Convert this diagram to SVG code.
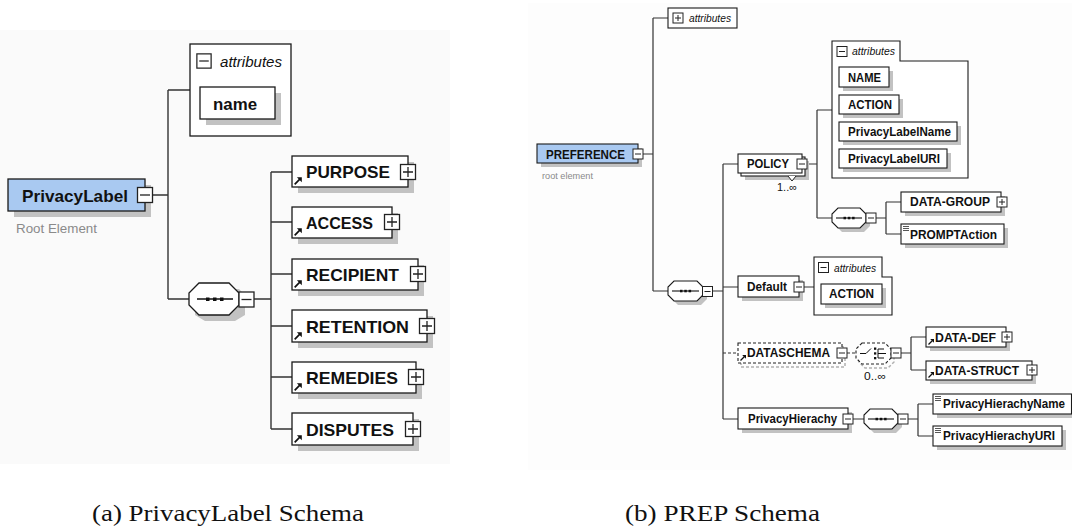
<svg xmlns="http://www.w3.org/2000/svg" xmlns:xlink="http://www.w3.org/1999/xlink" width="1072" height="532" viewBox="0 0 1072 532">
<style>
.bx{fill:#fff;stroke:#1a1a1a;stroke-width:1.3}
.root{fill:#a9c9f1;stroke:#1a1a1a;stroke-width:1.3}
.sh{fill:#c2c2c2}
.ln{fill:none;stroke:#333;stroke-width:1.4}
.dl{fill:none;stroke:#333;stroke-width:1.2;stroke-dasharray:3 2}
.tb{font-family:"Liberation Sans",Arial,sans-serif;font-weight:bold;fill:#111}
.ti{font-family:"Liberation Sans",Arial,sans-serif;font-style:italic;fill:#111}
.tg{font-family:"Liberation Sans",Arial,sans-serif;fill:#8a8a8a}
.tn{font-family:"Liberation Sans",Arial,sans-serif;fill:#111}
.cap{font-family:"Liberation Serif","Times New Roman",serif;font-size:23px;fill:#111}
</style>
<defs>
<g id="m10"><rect x="-5" y="-5" width="10" height="10" fill="#fff" stroke="#222" stroke-width="1"/><path d="M-3 0H3" stroke="#222" stroke-width="1"/></g>
<g id="p10"><rect x="-5" y="-5" width="10" height="10" fill="#fff" stroke="#222" stroke-width="1"/><path d="M-3 0H3M0 -3V3" stroke="#222" stroke-width="1"/></g>
<g id="m15"><rect x="-7.5" y="-7.5" width="15" height="15" fill="#fff" stroke="#222" stroke-width="1.3"/><path d="M-5 0H5" stroke="#222" stroke-width="1.3"/></g>
<g id="p15"><rect x="-7.5" y="-7.5" width="15" height="15" fill="#fff" stroke="#222" stroke-width="1.3"/><path d="M-5 0H5M0 -5V5" stroke="#222" stroke-width="1.3"/></g>
<g id="arr"><path d="M0.5 -0.5L4.5 -4.5" stroke="#111" stroke-width="1.3"/><path d="M2.2 -6H6V-2.2Z" fill="#111"/></g>
<g id="doc"><path d="M0 0.5H6M0 2.5H6M0 4.5H6" stroke="#444" stroke-width="0.9"/></g>
</defs>

<rect x="0" y="30" width="450" height="434" fill="#fafafa"/>
<rect x="528" y="3" width="544" height="467" fill="#fdfdfd"/>

<g id="connectors">
<path class="ln" d="M152 195H168M168 90V299M168 90H190M168 299H189M254 299H271M271 172V429M271 172H292M271 222H292M271 274H292M271 326H292M271 377H292M271 429H292"/>
<path class="ln" style="stroke-width:1.2" d="M643 154H653M653 18V291M653 18H668M653 291H668M712 291H723M723 164V419M723 164H738M723 287H738M723 419H738M807 164H817M817 110V218M817 110H832M817 218H832M876 218H886M886 202V234M886 202H901M886 234H901M804 287H814M901 353H911M911 337V370M911 337H926M911 370H926M853 419H864M908 419H918M918 404V436M918 404H933M918 436H933"/>
<path class="dl" d="M723 353H738M847 353H856"/>
</g>

<!-- Left diagram -->
<g id="privacylabel">
<rect class="sh" x="14" y="185" width="137" height="32"/>
<rect class="root" x="8" y="179" width="137" height="32"/>
<text class="tb" x="22" y="202" font-size="17" textLength="106" lengthAdjust="spacingAndGlyphs">PrivacyLabel</text>
<use xlink:href="#m15" href="#m15" transform="translate(145 195)"/>
<text class="tg" x="16" y="233" font-size="13" textLength="81" lengthAdjust="spacingAndGlyphs">Root Element</text>
</g>
<g id="pl-attributes">
<rect class="bx" x="190" y="44" width="101" height="92"/>
<use href="#m15" transform="translate(204 61) scale(0.95)"/>
<text class="ti" x="220" y="67" font-size="15" textLength="62" lengthAdjust="spacingAndGlyphs">attributes</text>
<rect class="sh" x="206" y="93" width="75" height="32"/>
<rect class="bx" x="200" y="87" width="75" height="32"/>
<text class="tb" x="213" y="110" font-size="16" textLength="44" lengthAdjust="spacingAndGlyphs">name</text>
</g>
<g id="pl-sequence">
<polygon class="sh" points="205,289 239,289 245,295 245,315 235,321 205,321 195,315 195,299"/>
<polygon class="bx" points="199,283 229,283 239,293 239,305 229,315 199,315 189,305 189,293"/>
<path d="M197 299H233" stroke="#111" stroke-width="1.4"/>
<rect x="206" y="297.5" width="3.5" height="3.5" fill="#111"/><rect x="213" y="297.5" width="3.5" height="3.5" fill="#111"/><rect x="220" y="297.5" width="3.5" height="3.5" fill="#111"/>
<use href="#m15" transform="translate(246.5 299.5)"/>
</g>
<g id="purpose">
<rect class="sh" x="298" y="162" width="116" height="31"/>
<rect class="bx" x="292" y="156" width="116" height="31"/>
<use href="#arr" transform="translate(294 185) scale(1.3)"/>
<text class="tb" x="306" y="178" font-size="17" textLength="84" lengthAdjust="spacingAndGlyphs">PURPOSE</text>
<use href="#p15" transform="translate(408 172)"/>
</g>
<g id="access">
<rect class="sh" x="298" y="213" width="100" height="31"/>
<rect class="bx" x="292" y="207" width="100" height="31"/>
<use href="#arr" transform="translate(294 236) scale(1.3)"/>
<text class="tb" x="306" y="229" font-size="17" textLength="67" lengthAdjust="spacingAndGlyphs">ACCESS</text>
<use href="#p15" transform="translate(392 222)"/>
</g>
<g id="recipient">
<rect class="sh" x="298" y="265" width="126" height="31"/>
<rect class="bx" x="292" y="259" width="126" height="31"/>
<use href="#arr" transform="translate(294 288) scale(1.3)"/>
<text class="tb" x="306" y="281" font-size="17" textLength="93" lengthAdjust="spacingAndGlyphs">RECIPIENT</text>
<use href="#p15" transform="translate(418 274)"/>
</g>
<g id="retention">
<rect class="sh" x="298" y="316" width="135" height="32"/>
<rect class="bx" x="292" y="310" width="135" height="32"/>
<use href="#arr" transform="translate(294 340) scale(1.3)"/>
<text class="tb" x="306" y="333" font-size="17" textLength="103" lengthAdjust="spacingAndGlyphs">RETENTION</text>
<use href="#p15" transform="translate(427 326)"/>
</g>
<g id="remedies">
<rect class="sh" x="298" y="368" width="124" height="31"/>
<rect class="bx" x="292" y="362" width="124" height="31"/>
<use href="#arr" transform="translate(294 391) scale(1.3)"/>
<text class="tb" x="306" y="384" font-size="17" textLength="92" lengthAdjust="spacingAndGlyphs">REMEDIES</text>
<use href="#p15" transform="translate(416 377)"/>
</g>
<g id="disputes">
<rect class="sh" x="298" y="419" width="121" height="32"/>
<rect class="bx" x="292" y="413" width="121" height="32"/>
<use href="#arr" transform="translate(294 443) scale(1.3)"/>
<text class="tb" x="306" y="436" font-size="17" textLength="88" lengthAdjust="spacingAndGlyphs">DISPUTES</text>
<use href="#p15" transform="translate(413 429)"/>
</g>

<!-- Right diagram -->
<g id="pref-attributes">
<rect class="bx" x="668" y="8" width="69" height="20" style="stroke-width:1.1"/>
<use href="#p10" transform="translate(678 18)"/>
<text class="ti" x="689" y="22" font-size="10.5" textLength="42" lengthAdjust="spacingAndGlyphs">attributes</text>
</g>
<g id="preference">
<rect class="sh" x="541" y="148" width="101" height="19"/>
<rect class="root" x="537" y="144" width="101" height="19" style="stroke-width:1.1"/>
<text class="tb" x="546" y="159" font-size="12.5" textLength="79" lengthAdjust="spacingAndGlyphs">PREFERENCE</text>
<use href="#m10" transform="translate(638 154)"/>
<text class="tg" x="542" y="179" font-size="9.5" textLength="51" lengthAdjust="spacingAndGlyphs">root element</text>
</g>
<g id="pref-sequence">
<polygon class="sh" points="678,285 701,285 707,291 707,299 701,305 678,305 672,299 672,291"/>
<polygon class="bx" points="674,281 697,281 703,287 703,295 697,301 674,301 668,295 668,287" style="stroke-width:1.1"/>
<path d="M672 291H699" stroke="#111" stroke-width="1.1"/>
<rect x="680" y="289.8" width="2.5" height="2.5" fill="#111"/><rect x="684.3" y="289.8" width="2.5" height="2.5" fill="#111"/><rect x="688.6" y="289.8" width="2.5" height="2.5" fill="#111"/>
<use href="#m10" transform="translate(707.5 291.5)"/>
</g>
<g id="policy">
<rect class="sh" x="745" y="161" width="64" height="19"/>
<rect class="bx" x="741" y="157" width="64" height="19" style="stroke-width:1.1"/>
<rect class="bx" x="738" y="154" width="64" height="19" style="stroke-width:1.1"/>
<path d="M788 176L792 181L796 176" fill="#fff" stroke="#222" stroke-width="1"/>
<text class="tb" x="747" y="168" font-size="12.5" textLength="42" lengthAdjust="spacingAndGlyphs">POLICY</text>
<use href="#m10" transform="translate(802 164)"/>
<text class="tn" x="777" y="191" font-size="11" textLength="20" lengthAdjust="spacingAndGlyphs">1..∞</text>
</g>
<g id="policy-attributes">
<path class="bx" d="M832 41H900V61H968V178H832Z" style="stroke-width:1.1"/>
<use href="#m10" transform="translate(842 51.5)"/>
<text class="ti" x="852" y="55" font-size="10.5" textLength="43" lengthAdjust="spacingAndGlyphs">attributes</text>
<rect class="sh" x="843" y="71" width="50" height="20"/>
<rect class="bx" x="839" y="67" width="50" height="20" style="stroke-width:1.1"/>
<text class="tb" x="848" y="82" font-size="12" textLength="33" lengthAdjust="spacingAndGlyphs">NAME</text>
<rect class="sh" x="843" y="99" width="60" height="19"/>
<rect class="bx" x="839" y="95" width="60" height="19" style="stroke-width:1.1"/>
<text class="tb" x="848" y="109" font-size="12" textLength="44" lengthAdjust="spacingAndGlyphs">ACTION</text>
<rect class="sh" x="843" y="126" width="118" height="19"/>
<rect class="bx" x="839" y="122" width="118" height="19" style="stroke-width:1.1"/>
<text class="tb" x="848" y="136" font-size="12" textLength="103" lengthAdjust="spacingAndGlyphs">PrivacyLabelName</text>
<rect class="sh" x="843" y="153" width="108" height="19"/>
<rect class="bx" x="839" y="149" width="108" height="19" style="stroke-width:1.1"/>
<text class="tb" x="848" y="163" font-size="12" textLength="92" lengthAdjust="spacingAndGlyphs">PrivacyLabelURI</text>
</g>
<g id="policy-sequence">
<polygon class="sh" points="842,212 864,212 870,218 870,226 864,232 842,232 836,226 836,218"/>
<polygon class="bx" points="838,208 860,208 866,214 866,222 860,228 838,228 832,222 832,214" style="stroke-width:1.1"/>
<path d="M836 218H862" stroke="#111" stroke-width="1.1"/>
<rect x="843.5" y="216.8" width="2.5" height="2.5" fill="#111"/><rect x="847.8" y="216.8" width="2.5" height="2.5" fill="#111"/><rect x="852.1" y="216.8" width="2.5" height="2.5" fill="#111"/>
<use href="#m10" transform="translate(871 218)"/>
</g>
<g id="data-group">
<rect class="sh" x="905" y="196" width="100" height="20"/>
<rect class="bx" x="901" y="192" width="100" height="20" style="stroke-width:1.1"/>
<text class="tb" x="910" y="206" font-size="12" textLength="80" lengthAdjust="spacingAndGlyphs">DATA-GROUP</text>
<use href="#p10" transform="translate(1002 202)"/>
</g>
<g id="promptaction">
<rect class="sh" x="905" y="228" width="103" height="20"/>
<rect class="bx" x="901" y="224" width="103" height="20" style="stroke-width:1.1"/>
<use href="#doc" transform="translate(903 226)"/>
<text class="tb" x="910" y="239" font-size="12" textLength="87" lengthAdjust="spacingAndGlyphs">PROMPTAction</text>
</g>
<g id="default">
<rect class="sh" x="742" y="280" width="61" height="21"/>
<rect class="bx" x="738" y="276" width="61" height="21" style="stroke-width:1.1"/>
<text class="tb" x="747" y="291" font-size="12" textLength="40" lengthAdjust="spacingAndGlyphs">Default</text>
<use href="#m10" transform="translate(799 287)"/>
</g>
<g id="default-attributes">
<path class="bx" d="M814 257H882V277H892V315H814Z" style="stroke-width:1.1"/>
<use href="#m10" transform="translate(823.5 267.5)"/>
<text class="ti" x="834" y="272" font-size="10.5" textLength="42" lengthAdjust="spacingAndGlyphs">attributes</text>
<rect class="sh" x="825" y="288" width="61" height="20"/>
<rect class="bx" x="821" y="284" width="61" height="20" style="stroke-width:1.1"/>
<text class="tb" x="829" y="298" font-size="12" textLength="45" lengthAdjust="spacingAndGlyphs">ACTION</text>
</g>
<g id="dataschema">
<rect x="741" y="347" width="104" height="20" fill="none" stroke="#b0b0b0" stroke-width="1.5" stroke-dasharray="3 2"/>
<rect x="738" y="343" width="104" height="20" fill="#fff" stroke="#222" stroke-width="1.1" stroke-dasharray="3 2"/>
<use href="#arr" transform="translate(740 361)"/>
<text class="tb" x="747" y="357" font-size="12" textLength="83" lengthAdjust="spacingAndGlyphs">DATASCHEMA</text>
<use href="#m10" transform="translate(842 353)"/>
</g>
<g id="dataschema-choice">
<polygon points="865,347 888,347 894,353 894,362 888,368 865,368 859,362 859,353" fill="none" stroke="#b0b0b0" stroke-width="1.5" stroke-dasharray="3 2"/>
<polygon points="862,343 885,343 891,349 891,358 885,364 862,364 856,358 856,349" fill="#fff" stroke="#222" stroke-width="1.1" stroke-dasharray="3 2"/>
<path d="M860 353.5H866L871 348.5M878 349H884M878 353.5H886M878 358H884M878 349V358" fill="none" stroke="#111" stroke-width="1"/>
<rect x="874" y="347.5" width="2.3" height="2.3" fill="#111"/><rect x="874" y="352.3" width="2.3" height="2.3" fill="#111"/><rect x="874" y="357" width="2.3" height="2.3" fill="#111"/>
<use href="#m10" transform="translate(896 353)"/>
<text class="tn" x="864" y="380" font-size="11" textLength="22" lengthAdjust="spacingAndGlyphs">0..∞</text>
</g>
<g id="data-def">
<rect class="sh" x="930" y="331" width="80" height="20"/>
<rect class="bx" x="926" y="327" width="80" height="20" style="stroke-width:1.1"/>
<use href="#arr" transform="translate(928 345)"/>
<text class="tb" x="935" y="342" font-size="12" textLength="61" lengthAdjust="spacingAndGlyphs">DATA-DEF</text>
<use href="#p10" transform="translate(1007 337)"/>
</g>
<g id="data-struct">
<rect class="sh" x="930" y="365" width="106" height="19"/>
<rect class="bx" x="926" y="361" width="106" height="19" style="stroke-width:1.1"/>
<use href="#arr" transform="translate(928 378)"/>
<text class="tb" x="935" y="375" font-size="12" textLength="84" lengthAdjust="spacingAndGlyphs">DATA-STRUCT</text>
<use href="#p10" transform="translate(1032 370)"/>
</g>
<g id="privacyhierachy">
<rect class="sh" x="742" y="412" width="110" height="21"/>
<rect class="bx" x="738" y="408" width="110" height="21" style="stroke-width:1.1"/>
<text class="tb" x="748" y="423" font-size="12" textLength="89" lengthAdjust="spacingAndGlyphs">PrivacyHierachy</text>
<use href="#m10" transform="translate(848 419)"/>
</g>
<g id="ph-sequence">
<polygon class="sh" points="874,413 896,413 902,419 902,427 896,433 874,433 868,427 868,419"/>
<polygon class="bx" points="870,409 892,409 898,415 898,423 892,429 870,429 864,423 864,415" style="stroke-width:1.1"/>
<path d="M868 419H894" stroke="#111" stroke-width="1.1"/>
<rect x="875.5" y="417.8" width="2.5" height="2.5" fill="#111"/><rect x="879.8" y="417.8" width="2.5" height="2.5" fill="#111"/><rect x="884.1" y="417.8" width="2.5" height="2.5" fill="#111"/>
<use href="#m10" transform="translate(903 419)"/>
</g>
<g id="ph-name">
<rect class="sh" x="937" y="398" width="139" height="20"/>
<rect class="bx" x="933" y="394" width="138.5" height="20" style="stroke-width:1.1"/>
<use href="#doc" transform="translate(935 396)"/>
<text class="tb" x="943" y="408" font-size="12" textLength="122" lengthAdjust="spacingAndGlyphs">PrivacyHierachyName</text>
</g>
<g id="ph-uri">
<rect class="sh" x="937" y="430" width="129" height="20"/>
<rect class="bx" x="933" y="426" width="129" height="20" style="stroke-width:1.1"/>
<use href="#doc" transform="translate(935 428)"/>
<text class="tb" x="943" y="440" font-size="12" textLength="112" lengthAdjust="spacingAndGlyphs">PrivacyHierachyURI</text>
</g>

<text class="cap" x="92" y="521" textLength="272" lengthAdjust="spacingAndGlyphs">(a) PrivacyLabel Schema</text>
<text class="cap" x="625" y="521" textLength="195" lengthAdjust="spacingAndGlyphs">(b) PREP Schema</text>
</svg>
